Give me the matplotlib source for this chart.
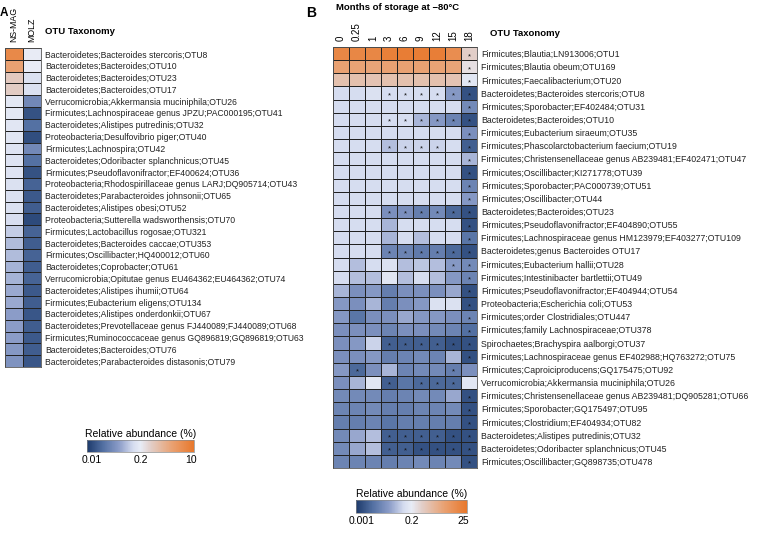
import numpy as np
import matplotlib
matplotlib.use("Agg")
import matplotlib.pyplot as plt
from matplotlib.colors import LinearSegmentedColormap, TwoSlopeNorm

plt.rcParams['font.family'] = ['Liberation Sans', 'DejaVu Sans']

# ---- panel A data: relative abundance (%) in two commercial products
a_columns = ["NS-MAG", "MOLZ"]
a_labels = [
    "Bacteroidetes;Bacteroides stercoris;OTU8",
    "Bacteroidetes;Bacteroides;OTU10",
    "Bacteroidetes;Bacteroides;OTU23",
    "Bacteroidetes;Bacteroides;OTU17",
    "Verrucomicrobia;Akkermansia muciniphila;OTU26",
    "Firmicutes;Lachnospiraceae genus JPZU;PAC000195;OTU41",
    "Bacteroidetes;Alistipes putredinis;OTU32",
    "Proteobacteria;Desulfovibrio piger;OTU40",
    "Firmicutes;Lachnospira;OTU42",
    "Bacteroidetes;Odoribacter splanchnicus;OTU45",
    "Firmicutes;Pseudoflavonifractor;EF400624;OTU36",
    "Proteobacteria;Rhodospirillaceae genus LARJ;DQ905714;OTU43",
    "Bacteroidetes;Parabacteroides johnsonii;OTU65",
    "Bacteroidetes;Alistipes obesi;OTU52",
    "Proteobacteria;Sutterella wadsworthensis;OTU70",
    "Firmicutes;Lactobacillus rogosae;OTU321",
    "Bacteroidetes;Bacteroides caccae;OTU353",
    "Firmicutes;Oscillibacter;HQ400012;OTU60",
    "Bacteroidetes;Coprobacter;OTU61",
    "Verrucomicrobia;Opitutae genus EU464362;EU464362;OTU74",
    "Bacteroidetes;Alistipes ihumii;OTU64",
    "Firmicutes;Eubacterium eligens;OTU134",
    "Bacteroidetes;Alistipes onderdonkii;OTU67",
    "Bacteroidetes;Prevotellaceae genus FJ440089;FJ440089;OTU68",
    "Firmicutes;Ruminococcaceae genus GQ896819;GQ896819;OTU63",
    "Bacteroidetes;Bacteroides;OTU76",
    "Bacteroidetes;Parabacteroides distasonis;OTU79",
]
nsmag = [5, 2, 0.5, 0.45, 0.18, 0.18, 0.17, 0.17, 0.16, 0.16, 0.16, 0.15, 0.15,
         0.15, 0.14, 0.11, 0.09, 0.09, 0.08, 0.08, 0.07, 0.07, 0.06, 0.06, 0.06,
         0.055, 0.05]
molz = [0.2, 0.2, 0.15, 0.15, 0.04, 0.015, 0.025, 0.014, 0.04, 0.025, 0.015,
        0.02, 0.017, 0.018, 0.013, 0.02, 0.018, 0.02, 0.018, 0.02, 0.017, 0.018,
        0.016, 0.018, 0.017, 0.018, 0.016]

# ---- panel B data: relative abundance (%) over months of storage at -80C
b_months = ["0", "0.25", "1", "3", "6", "9", "12", "15", "18"]
b_labels = [
    "Firmicutes;Blautia;LN913006;OTU1",
    "Firmicutes;Blautia obeum;OTU169",
    "Firmicutes;Faecalibacterium;OTU20",
    "Bacteroidetes;Bacteroides stercoris;OTU8",
    "Firmicutes;Sporobacter;EF402484;OTU31",
    "Bacteroidetes;Bacteroides;OTU10",
    "Firmicutes;Eubacterium siraeum;OTU35",
    "Firmicutes;Phascolarctobacterium faecium;OTU19",
    "Firmicutes;Christensenellaceae genus AB239481;EF402471;OTU47",
    "Firmicutes;Oscillibacter;KI271778;OTU39",
    "Firmicutes;Sporobacter;PAC000739;OTU51",
    "Firmicutes;Oscillibacter;OTU44",
    "Bacteroidetes;Bacteroides;OTU23",
    "Firmicutes;Pseudoflavonifractor;EF404890;OTU55",
    "Firmicutes;Lachnospiraceae genus HM123979;EF403277;OTU109",
    "Bacteroidetes;genus Bacteroides OTU17",
    "Firmicutes;Eubacterium hallii;OTU28",
    "Firmicutes;Intestinibacter bartlettii;OTU49",
    "Firmicutes;Pseudoflavonifractor;EF404944;OTU54",
    "Proteobacteria;Escherichia coli;OTU53",
    "Firmicutes;order Clostridiales;OTU447",
    "Firmicutes;family Lachnospiraceae;OTU378",
    "Spirochaetes;Brachyspira aalborgi;OTU37",
    "Firmicutes;Lachnospiraceae genus EF402988;HQ763272;OTU75",
    "Firmicutes;Caproiciproducens;GQ175475;OTU92",
    "Verrucomicrobia;Akkermansia muciniphila;OTU26",
    "Firmicutes;Christensenellaceae genus AB239481;DQ905281;OTU66",
    "Firmicutes;Sporobacter;GQ175497;OTU95",
    "Firmicutes;Clostridium;EF404934;OTU82",
    "Bacteroidetes;Alistipes putredinis;OTU32",
    "Bacteroidetes;Odoribacter splanchnicus;OTU45",
    "Firmicutes;Oscillibacter;GQ898735;OTU478",
]
b_values = [
    [12, 12, 12, 17, 19, 19, 18, 9, 0.5],
    [3.5, 3.2, 3, 3.5, 3.5, 3.5, 3.2, 3, 0.3],
    [0.9, 0.9, 0.8, 0.9, 0.9, 0.9, 0.9, 0.8, 0.15],
    [0.1, 0.1, 0.12, 0.1, 0.1, 0.1, 0.1, 0.02, 0.002],
    [0.1, 0.1, 0.1, 0.1, 0.1, 0.1, 0.1, 0.1, 0.012],
    [0.1, 0.1, 0.1, 0.1, 0.1, 0.04, 0.02, 0.01, 0.002],
    [0.1, 0.1, 0.1, 0.1, 0.1, 0.1, 0.1, 0.1, 0.015],
    [0.1, 0.1, 0.1, 0.05, 0.08, 0.08, 0.08, 0.1, 0.003],
    [0.1, 0.1, 0.1, 0.1, 0.1, 0.1, 0.1, 0.1, 0.04],
    [0.1, 0.1, 0.1, 0.1, 0.1, 0.1, 0.1, 0.1, 0.002],
    [0.1, 0.1, 0.1, 0.1, 0.1, 0.1, 0.1, 0.1, 0.01],
    [0.1, 0.1, 0.1, 0.1, 0.1, 0.1, 0.1, 0.1, 0.02],
    [0.1, 0.1, 0.1, 0.015, 0.015, 0.008, 0.012, 0.004, 0.002],
    [0.1, 0.1, 0.1, 0.04, 0.1, 0.1, 0.1, 0.1, 0.002],
    [0.1, 0.1, 0.1, 0.04, 0.1, 0.05, 0.1, 0.1, 0.006],
    [0.1, 0.1, 0.1, 0.01, 0.01, 0.007, 0.008, 0.004, 0.002],
    [0.1, 0.05, 0.1, 0.12, 0.05, 0.06, 0.05, 0.02, 0.012],
    [0.1, 0.05, 0.05, 0.15, 0.05, 0.1, 0.05, 0.02, 0.01],
    [0.04, 0.015, 0.02, 0.008, 0.015, 0.015, 0.015, 0.03, 0.002],
    [0.02, 0.015, 0.04, 0.008, 0.015, 0.02, 0.12, 0.12, 0.002],
    [0.02, 0.006, 0.015, 0.015, 0.03, 0.02, 0.02, 0.015, 0.01],
    [0.015, 0.015, 0.015, 0.01, 0.015, 0.015, 0.012, 0.01, 0.005],
    [0.015, 0.02, 0.08, 0.003, 0.003, 0.003, 0.003, 0.002, 0.002],
    [0.015, 0.015, 0.02, 0.008, 0.01, 0.012, 0.01, 0.04, 0.002],
    [0.02, 0.004, 0.015, 0.04, 0.01, 0.012, 0.012, 0.008, 0.015],
    [0.015, 0.04, 0.15, 0.003, 0.006, 0.004, 0.004, 0.004, 0.15],
    [0.012, 0.012, 0.012, 0.008, 0.01, 0.012, 0.012, 0.03, 0.002],
    [0.01, 0.01, 0.012, 0.008, 0.008, 0.01, 0.01, 0.012, 0.002],
    [0.008, 0.008, 0.01, 0.006, 0.008, 0.008, 0.008, 0.008, 0.002],
    [0.012, 0.03, 0.05, 0.003, 0.003, 0.003, 0.003, 0.002, 0.002],
    [0.012, 0.03, 0.05, 0.003, 0.003, 0.002, 0.002, 0.002, 0.002],
    [0.01, 0.01, 0.01, 0.008, 0.01, 0.012, 0.01, 0.012, 0.002],
]
# columns (by index) marked significant with *
b_signif = [
    [8], [8], [8], [3, 4, 5, 6, 7, 8], [8], [3, 4, 5, 6, 7, 8], [8],
    [3, 4, 5, 6, 8], [8], [8], [8], [8], [3, 4, 5, 6, 7, 8], [8], [8],
    [3, 4, 5, 6, 7, 8], [7, 8], [8], [8], [8], [8], [8], [3, 4, 5, 6, 7, 8],
    [8], [1, 7], [3, 5, 6, 7], [8], [8], [8], [3, 4, 5, 6, 7, 8],
    [3, 4, 5, 6, 7, 8], [8],
]

cmap = LinearSegmentedColormap.from_list(
    "abund", [(0.0, "#1d3a6b"), (0.15, "#5370a2"), (0.3, "#8c9dc8"),
              (0.43, "#d5dcef"), (0.5, "#e8ecf6"), (0.6, "#e2cdc6"),
              (0.8, "#e9a070"), (1.0, "#e8782c")])

W, H = 764, 537
fig = plt.figure(figsize=(W / 100, H / 100), dpi=100)


def box(x0, y0, x1, y1):
    # pixel box (top-left origin) -> figure fraction rect
    return [x0 / W, 1 - y1 / H, (x1 - x0) / W, (y1 - y0) / H]


def heat(ax, vals, norm, cols, rows, lw, fs, xfs):
    m = ax.pcolormesh(np.log10(np.array(vals)), cmap=cmap, norm=norm,
                      edgecolors="#222222", linewidth=lw)
    ax.set_xlim(0, len(cols))
    ax.set_ylim(len(rows), 0)
    ax.set_xticks(np.arange(len(cols)) + 0.5)
    ax.set_xticklabels(cols, rotation=90, fontsize=xfs)
    ax.xaxis.tick_top()
    ax.yaxis.tick_right()
    ax.set_yticks(np.arange(len(rows)) + 0.5)
    ax.set_yticklabels(rows, fontsize=fs, color="#222222")
    ax.tick_params(length=0, pad=3)
    ax.tick_params(axis="x", pad=4)
    for s in ax.spines.values():
        s.set_color("#555555")
        s.set_linewidth(0.6)
    return m


def cbar(rect, mappable, ticks, labels):
    cax = fig.add_axes(rect)
    cb = fig.colorbar(mappable, cax=cax, orientation="horizontal")
    cb.set_ticks(ticks)
    cb.set_ticklabels(labels)
    cax.tick_params(length=0, labelsize=7.5, pad=2)
    cb.outline.set_linewidth(0.5)
    cb.outline.set_edgecolor("#888888")
    cax.set_title("Relative abundance (%)", fontsize=7.5, pad=2)
    return cb


# ---- panel A
normA = TwoSlopeNorm(vmin=np.log10(0.01), vcenter=np.log10(0.2), vmax=np.log10(10))
axA = fig.add_axes(box(5, 48, 41, 367))
a_vals = np.column_stack([nsmag, molz])
mA = heat(axA, a_vals, normA, a_columns, a_labels, 0.5, 6.2, 6.3)
cbar(box(87, 440, 194, 452), mA,
     [np.log10(0.013), np.log10(0.2), np.log10(8)], ["0.01", "0.2", "10"])

# ---- panel B
normB = TwoSlopeNorm(vmin=np.log10(0.001), vcenter=np.log10(0.2), vmax=np.log10(25))
axB = fig.add_axes(box(333, 47, 477, 468))
mB = heat(axB, b_values, normB, b_months, b_labels, 0.6, 6.35, 7)
for r, cols in enumerate(b_signif):
    for c in cols:
        axB.text(c + 0.5, r + 0.72, "*", ha="center", va="center",
                 fontsize=5.5, color="#111111")
cbar(box(356, 500, 467, 513), mB,
     [np.log10(0.0017), np.log10(0.2), np.log10(18)], ["0.001", "0.2", "25"])

# ---- titles and panel letters
fig.text(0 / W, 1 - 13 / H, "A", fontsize=8.5, fontweight="bold", va="center")
fig.text(45 / W, 1 - 32 / H, "OTU Taxonomy", fontsize=6.8,
         fontweight="bold", va="center")
fig.text(306 / W, 1 - 13 / H, "B", fontsize=10, fontweight="bold", va="center")
fig.text(336 / W, 1 - 7 / H, "Months of storage at \u221280\u00b0C", fontsize=6.8,
         fontweight="bold", va="center")
fig.text(490 / W, 1 - 33 / H, "OTU Taxonomy", fontsize=6.8,
         fontweight="bold", va="center")

fig.savefig("out.png", dpi=100)
